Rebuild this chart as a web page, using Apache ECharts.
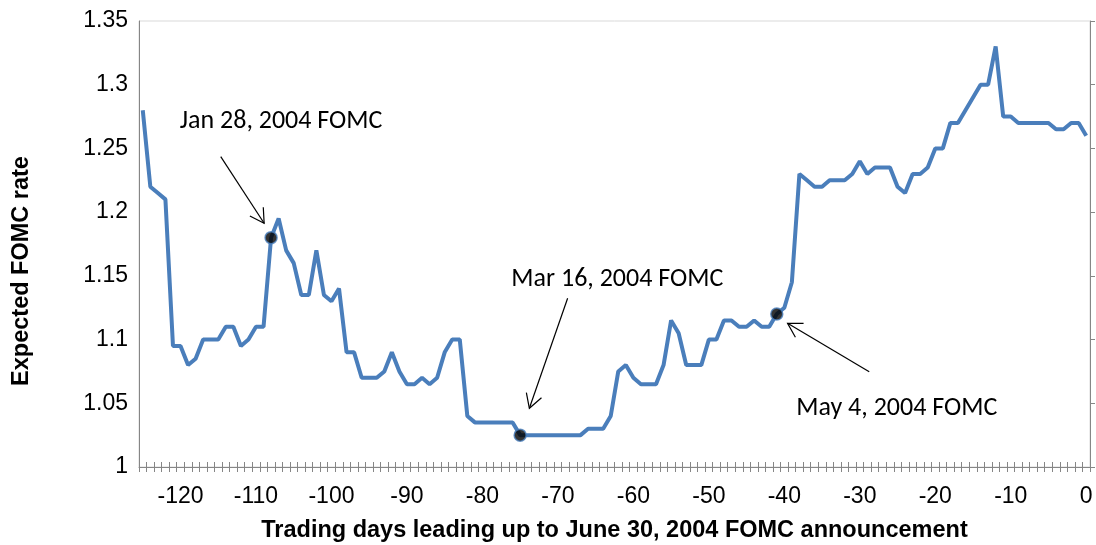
<!DOCTYPE html>
<html>
<head>
<meta charset="utf-8">
<script src="https://cdn.jsdelivr.net/npm/echarts@6/dist/echarts.min.js"></script>
<style>
html,body{margin:0;padding:0;background:#fff;}
#chart{width:1096px;height:545px;}
</style>
</head>
<body>
<div id="chart"></div>
<script>
// ---- Data ----
const days = [];
for (let d = -125; d <= 0; d++) days.push(String(d));

const expectedRate = [
  1.28, 1.22, 1.215, 1.21, 1.095, 1.095, 1.08, 1.085, 1.1, 1.1,
  1.1, 1.11, 1.11, 1.095, 1.1, 1.11, 1.11, 1.18, 1.195, 1.17,
  1.16, 1.135, 1.135, 1.17, 1.135, 1.13, 1.14, 1.09, 1.09, 1.07,
  1.07, 1.07, 1.075, 1.09, 1.075, 1.065, 1.065, 1.07, 1.065, 1.07,
  1.09, 1.1, 1.1, 1.04, 1.035, 1.035, 1.035, 1.035, 1.035, 1.035,
  1.025, 1.025, 1.025, 1.025, 1.025, 1.025, 1.025, 1.025, 1.025, 1.03,
  1.03, 1.03, 1.04, 1.075, 1.08, 1.07, 1.065, 1.065, 1.065, 1.08,
  1.115, 1.105, 1.08, 1.08, 1.08, 1.1, 1.1, 1.115, 1.115, 1.11,
  1.11, 1.115, 1.11, 1.11, 1.12, 1.125, 1.145, 1.23, 1.225, 1.22,
  1.22, 1.225, 1.225, 1.225, 1.23, 1.24, 1.23, 1.235, 1.235, 1.235,
  1.22, 1.215, 1.23, 1.23, 1.235, 1.25, 1.25, 1.27, 1.27, 1.28,
  1.29, 1.3, 1.3, 1.33, 1.275, 1.275, 1.27, 1.27, 1.27, 1.27,
  1.27, 1.265, 1.265, 1.27, 1.27, 1.26
];

const fomcDays = ['-108', '-75', '-41'];
const fomcLabels = ['Jan 28, 2004 FOMC', 'Mar 16, 2004 FOMC', 'May 4, 2004 FOMC'];

// annotation anchors in data units [day, rate]
const labelPos  = [[-120.1, 1.2708], [-76.17, 1.1468], [-38.42, 1.0463]];
const arrowFrom = [[-114.67, 1.2436], [-68.71, 1.1324], [-28.75, 1.0748]];
const arrowTo   = [[-108.92, 1.1913], [-73.78, 1.0461], [-39.57, 1.1128]];

const yMin = 1, yMax = 1.35, yStep = 0.05;

// ---- Chart ----
const AX = '#868686';
const FONT = '"Liberation Sans", Arial, sans-serif';
const ANN_FONT = 'Carlito, Lato, "Open Sans", sans-serif';

const chart = echarts.init(document.getElementById('chart'), null, {renderer: 'canvas'});

const fomcPoints = fomcDays.map(d => [d, expectedRate[days.indexOf(d)]]);

chart.setOption({
  animation: false,
  backgroundColor: '#fff',
  grid: {left: 139, right: 6, top: 21, bottom: 78, show: true, borderColor: '#d9d9d9', borderWidth: 1,
         containLabel: false, outerBoundsMode: 'none'},
  xAxis: [
    {
      type: 'category', data: days, boundaryGap: true,
      axisLine: {show: true, onZero: false, lineStyle: {color: AX, width: 1}},
      axisTick: {show: true, interval: 0, length: 5, lineStyle: {color: AX}},
      axisLabel: {
        interval: (i, v) => Number(v) % 10 === 0,
        fontSize: 23, color: '#000', margin: 18, fontFamily: FONT
      },
      splitLine: {show: false},
      name: 'Trading days leading up to June 30, 2004 FOMC announcement',
      nameLocation: 'middle', nameGap: 52,
      nameTextStyle: {fontSize: 23.5, fontWeight: 'bold', color: '#000', fontFamily: FONT}
    },
    {
      type: 'category', data: days, boundaryGap: true, position: 'bottom',
      axisLine: {show: false, onZero: false},
      axisTick: {show: true, inside: true, interval: 0, length: 5, lineStyle: {color: AX}},
      axisLabel: {show: false}, splitLine: {show: false}
    },
    {type: 'value', min: -125.5, max: 0.5, show: false, axisLine: {onZero: false}}
  ],
  yAxis: [
    {
      type: 'value', min: yMin, max: yMax, interval: yStep,
      axisLine: {show: true, onZero: false, lineStyle: {color: AX, width: 1}},
      axisTick: {show: false},
      splitLine: {show: false},
      axisLabel: {fontSize: 23, color: '#000', margin: 11, fontFamily: FONT,
        formatter: v => String(+v.toFixed(2))},
      name: 'Expected FOMC rate', nameLocation: 'middle', nameGap: 105, nameRotate: 90,
      nameTextStyle: {fontSize: 23.5, fontWeight: 'bold', color: '#000', fontFamily: FONT, padding: [0, 54, 0, 0]}
    },
    {
      type: 'value', position: 'right', min: yMin, max: yMax, interval: yStep,
      axisLine: {show: true, onZero: false, lineStyle: {color: AX, width: 1}},
      axisTick: {show: true, length: 5, lineStyle: {color: AX}},
      axisLabel: {show: false}, splitLine: {show: false}
    }
  ],
  series: [
    {
      type: 'line', data: expectedRate, xAxisIndex: 0, yAxisIndex: 0,
      symbol: 'none', lineStyle: {color: '#4a7ebb', width: 4}, z: 2
    },
    {
      type: 'scatter', data: fomcPoints, xAxisIndex: 0, yAxisIndex: 0,
      symbolSize: 12, itemStyle: {color: '#000', borderColor: '#4a7ebb', borderWidth: 1.5}, z: 3
    }
  ]
});

// annotations, positioned through the library's scales
function px(p) {
  return [
    chart.convertToPixel({xAxisIndex: 2}, p[0]),
    chart.convertToPixel({yAxisIndex: 0}, p[1])
  ];
}
const elements = [];
fomcLabels.forEach((lab, i) => {
  const t = px(labelPos[i]);
  elements.push({
    type: 'text', x: t[0], y: t[1], z: 10,
    style: {text: lab, font: '26px ' + ANN_FONT, fill: '#000', textAlign: 'left', textVerticalAlign: 'middle'}
  });
  const a = px(arrowFrom[i]), b = px(arrowTo[i]);
  elements.push({
    type: 'line', z: 10,
    shape: {x1: a[0], y1: a[1], x2: b[0], y2: b[1]},
    style: {stroke: '#000', lineWidth: 1.2}
  });
  const ang = Math.atan2(b[1] - a[1], b[0] - a[0]);
  const L = 16, w = Math.PI / 6;
  const p1 = [b[0] - L * Math.cos(ang - w), b[1] - L * Math.sin(ang - w)];
  const p2 = [b[0] - L * Math.cos(ang + w), b[1] - L * Math.sin(ang + w)];
  elements.push({
    type: 'polyline', z: 10,
    shape: {points: [p1, b, p2]},
    style: {stroke: '#000', lineWidth: 1.2, fill: null}
  });
});
chart.setOption({graphic: {elements: elements}});
</script>
</body>
</html>
